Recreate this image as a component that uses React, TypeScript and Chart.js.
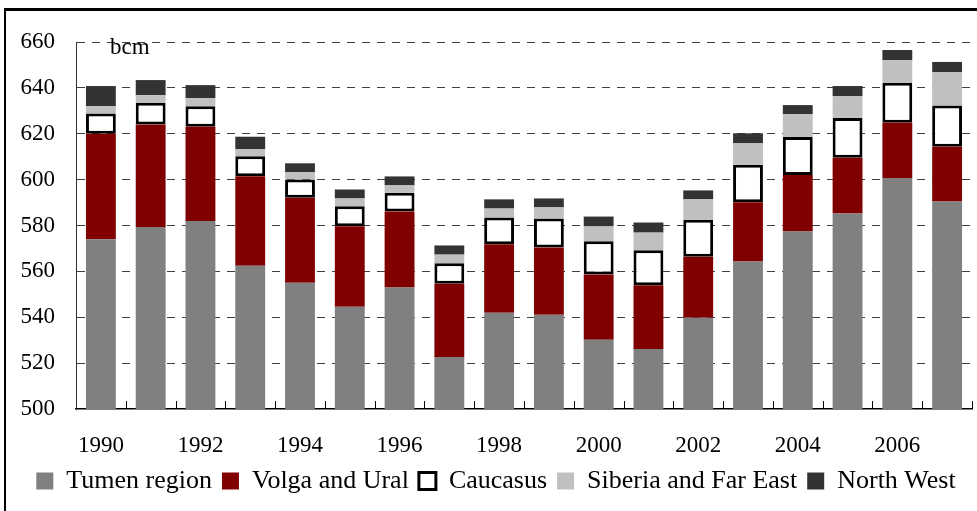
import { useEffect, useRef } from 'react';
import { Chart, registerables } from 'chart.js';

Chart.register(...registerables);

const years = ['1990', '1991', '1992', '1993', '1994', '1995', '1996', '1997', '1998', '1999', '2000', '2001', '2002', '2003', '2004', '2005', '2006', '2007'];
const tumen = [574, 579.3, 582, 562.5, 555, 544.6, 553, 522.7, 542, 541.1, 530.2, 526.2, 539.8, 564.3, 577.4, 585.2, 600.7, 590.5];
const volgaUral = [46, 44.7, 41, 39, 37.1, 35.1, 33.1, 31.9, 29.8, 29.3, 28.4, 27.7, 26.6, 25.8, 24.6, 24.3, 24.1, 23.8];
const caucasus = [8.8, 9.5, 9, 8.7, 8, 8.7, 8.2, 8.9, 11.7, 12.7, 14.5, 15.3, 16.1, 16.4, 16.6, 17.4, 17.4, 18];
const siberia = [3.2, 3.3, 3.5, 3, 3.1, 3.4, 3.2, 3.8, 3.9, 4.8, 6.5, 7.7, 8.9, 9.3, 9.9, 9.5, 9.9, 14.6];
const northWest = [8.8, 6.6, 5.7, 5.5, 3.9, 3.9, 3.9, 4, 4, 3.9, 4.3, 4.4, 3.9, 4.4, 4, 4.4, 4.4, 4.4];

const FONT = '"Liberation Serif", "Times New Roman", serif';

const decor = {
  id: 'decor',
  afterDraw(chart: any) {
    const { ctx, chartArea } = chart;
    const n = years.length;
    const w = (chartArea.right - chartArea.left) / n;
    ctx.save();
    ctx.strokeStyle = '#000';
    ctx.lineWidth = 1;
    ctx.beginPath();
    for (let i = 1; i <= n; i++) {
      const px = Math.round(chartArea.left + i * w) + 0.5;
      ctx.moveTo(px, chartArea.bottom);
      ctx.lineTo(px, chartArea.bottom - 8);
    }
    ctx.stroke();
    ctx.font = '23px ' + FONT;
    ctx.fillStyle = '#000';
    ctx.textBaseline = 'alphabetic';
    ctx.textAlign = 'left';
    ctx.fillText('bcm', chartArea.left + 34, chartArea.top + 12);
    ctx.restore();
  },
};

export default function App() {
  const ref = useRef<HTMLCanvasElement | null>(null);

  useEffect(() => {
    if (!ref.current) return;
    const chart = new Chart(ref.current, {
      type: 'bar',
      data: {
        labels: years,
        datasets: [
          { label: 'Tumen region', data: tumen, backgroundColor: '#808080', borderWidth: 0 },
          { label: 'Volga and Ural', data: volgaUral, backgroundColor: '#800000', borderWidth: 0 },
          { label: 'Caucasus', data: caucasus, backgroundColor: '#ffffff', borderColor: '#000000', borderWidth: 3, borderSkipped: false },
          { label: 'Siberia and Far East', data: siberia, backgroundColor: '#c0c0c0', borderWidth: 0 },
          { label: 'North West', data: northWest, backgroundColor: '#333333', borderWidth: 0 },
        ],
      },
      options: {
        responsive: false,
        animation: false,
        devicePixelRatio: 1,
        layout: { padding: { top: 42, right: 5, left: 20, bottom: 7 } },
        datasets: { bar: { categoryPercentage: 1, barPercentage: 0.6 } },
        plugins: {
          legend: {
            position: 'bottom',
            labels: {
              font: { family: FONT, size: 26 },
              color: '#000',
              boxWidth: 17,
              boxHeight: 17,
              padding: 10,
            },
          },
          tooltip: { enabled: false },
        },
        scales: {
          x: {
            stacked: true,
            offset: true,
            grid: { display: false, drawTicks: false },
            border: { display: true, color: '#000', width: 1.5 },
            ticks: {
              autoSkip: false,
              maxRotation: 0,
              minRotation: 0,
              padding: 23,
              color: '#000',
              font: { family: FONT, size: 23 },
              callback: (_v: any, i: number) => (i % 2 === 0 ? years[i] : ''),
            },
            afterFit: (s: any) => { s.height = 49; },
          },
          y: {
            stacked: true,
            min: 500,
            max: 660,
            ticks: { stepSize: 20, padding: 21, color: '#000', font: { family: FONT, size: 23 } },
            grid: {
              drawTicks: false,
              lineWidth: 1,
              color: (ctx: any) => (ctx.tick && ctx.tick.value === 500 ? 'rgba(0,0,0,0)' : '#404040'),
            },
            border: { display: true, color: '#333', width: 1, dash: [8, 7] },
            afterFit: (s: any) => { s.width = 56; },
          },
        },
      },
      plugins: [decor],
    } as any);
    return () => chart.destroy();
  }, []);

  return (
    <div style={{ position: 'fixed', left: 0, top: 0, width: 977, height: 511, background: '#fff', overflow: 'hidden' }}>
      <div style={{ position: 'absolute', left: 4, top: 8, width: 2000, height: 2000, borderLeft: '2px solid #000', borderTop: '3px solid #000' }} />
      <canvas ref={ref} width={977} height={511} style={{ position: 'absolute', left: 0, top: 0, width: 977, height: 511 }} />
    </div>
  );
}
